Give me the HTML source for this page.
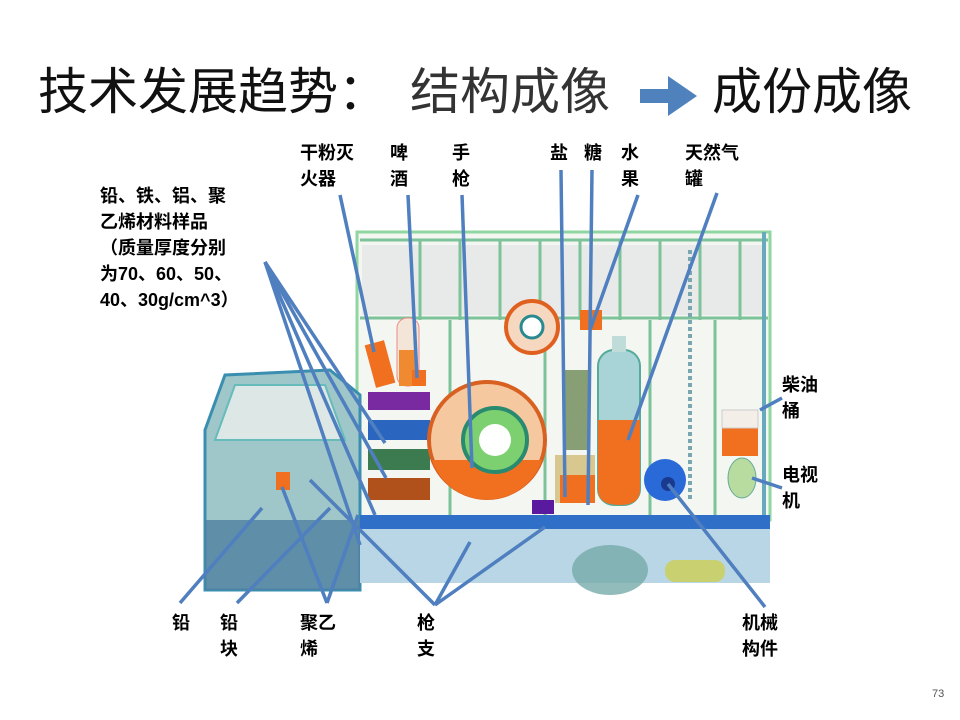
<!DOCTYPE html>
<html><head><meta charset="utf-8"><style>
body{margin:0;width:960px;height:720px;background:#fff;overflow:hidden;font-family:"Liberation Sans","Noto Sans CJK SC",sans-serif}
.t{position:absolute;top:62px;font-size:50px;line-height:60px;white-space:nowrap;color:#111}
.l{position:absolute;font-weight:bold;font-size:18px;line-height:26px;color:#000;font-family:"Liberation Sans","Noto Sans CJK SC",sans-serif}
</style></head><body>
<div class="t" style="left:38px">技术发展趋势：</div>
<div class="t" style="left:410px;color:#333">结构成像</div>
<div class="t" style="left:712px">成份成像</div>
<svg width="960" height="720" style="position:absolute;left:0;top:0">
<polygon points="640,89 668,89 668,76 697,96 668,116 668,103 640,103" fill="#4f81bd"/>
<!-- cargo box -->
<rect x="357" y="232" width="413" height="288" fill="#f4f6f2" stroke="#8fd6a0" stroke-width="3"/>
<rect x="362" y="245" width="403" height="70" fill="#e8eaea"/>
<g stroke="#7cc39a" stroke-width="3">
<line x1="420" y1="240" x2="420" y2="320"/><line x1="460" y1="240" x2="460" y2="320"/><line x1="500" y1="240" x2="500" y2="320"/><line x1="540" y1="240" x2="540" y2="320"/><line x1="580" y1="240" x2="580" y2="320"/><line x1="620" y1="240" x2="620" y2="320"/><line x1="660" y1="240" x2="660" y2="320"/><line x1="700" y1="240" x2="700" y2="320"/><line x1="740" y1="240" x2="740" y2="320"/>
<line x1="360" y1="318" x2="768" y2="318"/><line x1="360" y1="240" x2="768" y2="240"/>
<line x1="450" y1="320" x2="450" y2="515"/><line x1="545" y1="320" x2="545" y2="515"/><line x1="650" y1="320" x2="650" y2="515"/><line x1="715" y1="320" x2="715" y2="515"/>
</g>
<line x1="764" y1="232" x2="764" y2="525" stroke="#6ab" stroke-width="4"/>
<!-- cab -->
<path d="M205,590 L205,430 L225,375 L330,370 L360,395 L360,590 Z" fill="#9fc6c8" stroke="#3a8fb0" stroke-width="3"/>
<path d="M215,440 L235,385 L325,385 L345,440 Z" fill="#dde8e6" stroke="#6bb" stroke-width="2"/>
<rect x="205" y="520" width="155" height="70" fill="#4f7fa0" opacity=".8"/>
<rect x="276" y="472" width="14" height="18" fill="#f07020"/>
<!-- chassis -->
<rect x="360" y="528" width="410" height="55" fill="#b9d6e6"/>
<rect x="360" y="515" width="410" height="14" fill="#2f6fc8"/>
<rect x="532" y="500" width="22" height="14" fill="#5a1aa0"/>
<ellipse cx="610" cy="570" rx="38" ry="25" fill="#7aa" opacity=".8"/>
<rect x="665" y="560" width="60" height="22" rx="10" fill="#c8d070"/>
<!-- samples -->
<g>
<rect x="368" y="392" width="62" height="18" fill="#7a2aa0"/>
<rect x="368" y="420" width="62" height="20" fill="#2a66c0"/>
<rect x="368" y="449" width="62" height="21" fill="#3c7a50"/>
<rect x="368" y="478" width="62" height="22" fill="#b0501a"/>
</g>
<rect x="370" y="342" width="20" height="44" fill="#f07020" transform="rotate(-15 380 364)"/>
<rect x="397" y="318" width="22" height="68" rx="10" fill="#f3e6d8" stroke="#e88" stroke-width="1"/>
<rect x="399" y="350" width="18" height="36" fill="#f08a30"/>
<rect x="412" y="370" width="14" height="16" fill="#f07020"/>
<!-- tires -->
<circle cx="487" cy="440" r="58" fill="#f6c8a0" stroke="#d86020" stroke-width="4"/>
<path d="M432,460 A58,58 0 0 0 542,460 Z" fill="#f07020"/>
<circle cx="495" cy="440" r="32" fill="#7dd070" stroke="#2a8a70" stroke-width="4"/>
<circle cx="495" cy="440" r="16" fill="#fff"/>
<circle cx="532" cy="327" r="26" fill="#f6d8c0" stroke="#e06020" stroke-width="4"/>
<circle cx="532" cy="327" r="11" fill="#fff" stroke="#2a8a90" stroke-width="3"/>
<rect x="555" y="455" width="40" height="48" fill="#d8c890"/>
<rect x="560" y="475" width="35" height="28" fill="#f07020"/>
<rect x="564" y="370" width="24" height="80" fill="#5a7a40" opacity=".7"/>
<rect x="580" y="310" width="22" height="20" fill="#f07020"/>
<rect x="598" y="350" width="42" height="155" rx="16" fill="#a8d4d8" stroke="#5a9" stroke-width="2"/>
<path d="M598,420 L640,420 L640,490 Q640,505 620,505 Q598,505 598,490 Z" fill="#f07020"/>
<rect x="612" y="336" width="14" height="16" fill="#c0dcd8"/>
<circle cx="665" cy="480" r="21" fill="#2a6ad8"/><circle cx="668" cy="484" r="7" fill="#1a3a90"/>
<line x1="690" y1="250" x2="690" y2="500" stroke="#7aa6b0" stroke-width="4" stroke-dasharray="4 3"/>
<rect x="722" y="428" width="36" height="28" fill="#f07020"/>
<rect x="722" y="410" width="36" height="18" fill="#f4eee8" stroke="#ccc"/>
<ellipse cx="742" cy="478" rx="14" ry="20" fill="#b8dca0" stroke="#6a9"/>
<!-- leader lines -->
<g stroke="#4f7fbf" stroke-width="3.5" fill="none">
<line x1="340" y1="195" x2="374" y2="352"/>
<line x1="408" y1="195" x2="417" y2="378"/>
<line x1="462" y1="195" x2="472" y2="468"/>
<line x1="561" y1="170" x2="565" y2="497"/>
<line x1="592" y1="170" x2="588" y2="505"/>
<line x1="638" y1="195" x2="590" y2="330"/>
<line x1="717" y1="193" x2="628" y2="440"/>
<line x1="265" y1="262" x2="386" y2="478"/>
<line x1="265" y1="262" x2="385" y2="443"/>
<line x1="265" y1="262" x2="375" y2="515"/>
<line x1="265" y1="262" x2="360" y2="545"/>
<line x1="782" y1="398" x2="760" y2="410"/>
<line x1="782" y1="488" x2="752" y2="478"/>
<line x1="180" y1="603" x2="262" y2="508"/>
<line x1="237" y1="603" x2="330" y2="508"/>
<line x1="327" y1="603" x2="282" y2="487"/>
<line x1="327" y1="603" x2="358" y2="515"/>
<line x1="435" y1="605" x2="310" y2="480"/>
<line x1="435" y1="605" x2="470" y2="542"/>
<line x1="435" y1="605" x2="545" y2="527"/>
<line x1="765" y1="607" x2="668" y2="484"/>
</g>
</svg>
<div class="l" style="left:300px;top:140px">干粉灭<br>火器</div>
<div class="l" style="left:390px;top:140px">啤<br>酒</div>
<div class="l" style="left:452px;top:140px">手<br>枪</div>
<div class="l" style="left:550px;top:140px">盐</div>
<div class="l" style="left:584px;top:140px">糖</div>
<div class="l" style="left:621px;top:140px">水<br>果</div>
<div class="l" style="left:685px;top:140px">天然气<br>罐</div>
<div class="l" style="left:100px;top:183px">铅、铁、铝、聚<br>乙烯材料样品<br>（质量厚度分别<br>为70、60、50、<br>40、30g/cm^3）</div>
<div class="l" style="left:782px;top:372px">柴油<br>桶</div>
<div class="l" style="left:782px;top:462px">电视<br>机</div>
<div class="l" style="left:172px;top:610px">铅</div>
<div class="l" style="left:220px;top:610px">铅<br>块</div>
<div class="l" style="left:300px;top:610px">聚乙<br>烯</div>
<div class="l" style="left:417px;top:610px">枪<br>支</div>
<div class="l" style="left:742px;top:610px">机械<br>构件</div>
<div style="position:absolute;left:932px;top:688px;font-size:11px;color:#555">73</div>
</body></html>
